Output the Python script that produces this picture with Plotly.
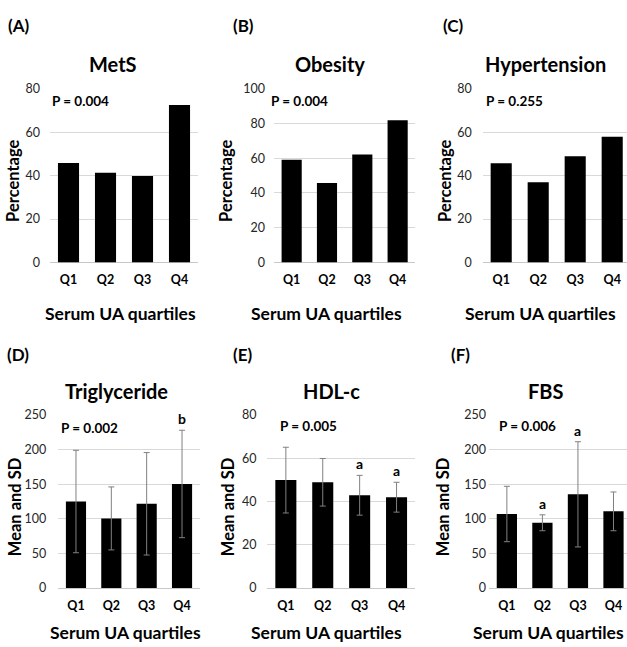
import plotly.graph_objects as go

W, H = 627, 647

categories = ["Q1", "Q2", "Q3", "Q4"]

# Panel data
mets = [45.8, 41.3, 39.8, 72.6]
obesity = [59.2, 45.8, 62.2, 81.9]
hypertension = [45.7, 37.0, 49.0, 57.9]
tg_mean = [125.0, 100.6, 121.7, 150.4]
tg_sd = [74.0, 45.5, 74.0, 77.6]
hdl_mean = [49.9, 48.9, 42.9, 42.0]
hdl_sd = [15.2, 11.0, 9.2, 6.9]
fbs_mean = [107.0, 94.3, 135.4, 110.8]
fbs_sd = [40.0, 11.5, 76.0, 28.0]

titles = ["MetS", "Obesity", "Hypertension", "Triglyceride", "HDL-c", "FBS"]
panel_labels = ["(A)", "(B)", "(C)", "(D)", "(E)", "(F)"]
p_values = ["P = 0.004", "P = 0.004", "P = 0.255", "P = 0.002", "P = 0.005", "P = 0.006"]
y_titles = ["Percentage", "Percentage", "Percentage", "Mean and SD", "Mean and SD", "Mean and SD"]
y_max = [80, 100, 80, 250, 80, 250]
y_dtick = [20, 20, 20, 50, 20, 50]

# significance letters: (panel index, category, letter)
sig_panel = [3, 4, 4, 5, 5]
sig_cat = ["Q4", "Q3", "Q4", "Q2", "Q3"]
sig_letter = ["b", "a", "a", "a", "a"]

values = [mets, obesity, hypertension, tg_mean, hdl_mean, fbs_mean]
errors = [None, None, None, tg_sd, hdl_sd, fbs_sd]

# layout geometry (pixels)
x_dom_px = [(50, 198), (274, 415.3), (482.7, 627), (58.3, 199.7), (267.4, 415), (489.1, 627)]
x_range = [(-0.5, 3.5), (-0.5, 3.5), (-0.5, 3.4), (-0.5, 3.5), (-0.5, 3.5), (-0.5, 3.38)]
top_dom = (0.5975, 0.872)
bot_dom = (0.0822, 0.356)
y_standoff = [9, 8, 10, 11, 10, 2]
title_pos = [(113, 57), (330, 57), (545, 57), (116, 392), (331, 392), (545, 392)]
label_pos = [(18, 18), (243, 18), (453, 18), (18, 355), (242, 355), (460, 355)]
p_pos = [(50, 95), (269, 95), (484, 95), (59, 430), (278, 428), (497, 428)]
ytitle_pos = [(13, 177), (226, 177), (445, 177), (15, 511), (228, 511), (443, 511)]
xtitle_pos = [(120, 313), (326, 313), (540, 313), (125, 639), (326, 639), (548, 639)]

FONT = "Lato"
fig = go.Figure()
annotations = []

def px2x(v):
    return v / W

def px2y(v):
    return 1 - v / H

for i in range(6):
    ax = "" if i == 0 else str(i + 1)
    err = None
    if errors[i] is not None:
        err = dict(type="data", array=errors[i], visible=True,
                   color="#808080", thickness=1, width=3)
    fig.add_trace(go.Bar(
        x=categories, y=values[i], error_y=err,
        marker=dict(color="black", line=dict(width=0)),
        xaxis="x" + ax, yaxis="y" + ax, showlegend=False,
    ))
    ydom = top_dom if i < 3 else bot_dom
    fig.update_layout(**{
        "xaxis" + ax: dict(
            domain=[px2x(x_dom_px[i][0]), px2x(x_dom_px[i][1])],
            anchor="y" + ax, type="category", range=list(x_range[i]),
            showgrid=False, showline=False, ticks="",
            tickfont=dict(family=FONT, size=12.5, color="black", weight="bold"),
            ticklabelstandoff=8, fixedrange=True,
        ),
        "yaxis" + ax: dict(
            domain=list(ydom), anchor="x" + ax, range=[0, y_max[i]],
            dtick=y_dtick[i], showgrid=True, gridcolor="#d9d9d9", gridwidth=1,
            zeroline=True, zerolinecolor="#c8c8c8", zerolinewidth=1,
            showline=False, ticks="",
            tickfont=dict(family=FONT, size=12.5, color="#262626"),
            ticklabelstandoff=y_standoff[i], fixedrange=True,
        ),
    })
    annotations.append(dict(text=titles[i], x=px2x(title_pos[i][0]), y=px2y(title_pos[i][1]),
                            xref="paper", yref="paper", showarrow=False,
                            xanchor="center", yanchor="middle",
                            font=dict(family=FONT, size=20, color="black", weight="bold")))
    annotations.append(dict(text=panel_labels[i], x=px2x(label_pos[i][0]), y=px2y(label_pos[i][1]),
                            xref="paper", yref="paper", showarrow=False,
                            xanchor="center", yanchor="middle",
                            font=dict(family=FONT, size=17, color="black", weight="bold")))
    annotations.append(dict(text=p_values[i], x=px2x(p_pos[i][0]), y=px2y(p_pos[i][1]),
                            xref="paper", yref="paper", showarrow=False,
                            xanchor="left", yanchor="middle",
                            font=dict(family=FONT, size=13.5, color="black", weight="bold")))
    annotations.append(dict(text=y_titles[i], x=px2x(ytitle_pos[i][0]), y=px2y(ytitle_pos[i][1]),
                            xref="paper", yref="paper", showarrow=False, textangle=-90,
                            xanchor="center", yanchor="middle",
                            font=dict(family=FONT, size=16.5, color="black", weight="bold")))
    annotations.append(dict(text="Serum UA quartiles", x=px2x(xtitle_pos[i][0]), y=px2y(xtitle_pos[i][1]),
                            xref="paper", yref="paper", showarrow=False,
                            xanchor="center", yanchor="middle",
                            font=dict(family=FONT, size=17.5, color="black", weight="bold")))

for p, c, letter in zip(sig_panel, sig_cat, sig_letter):
    ax = "" if p == 0 else str(p + 1)
    k = categories.index(c)
    top = values[p][k] + errors[p][k]
    annotations.append(dict(text=letter, x=c, y=top, xref="x" + ax, yref="y" + ax,
                            showarrow=False, xanchor="center", yanchor="bottom", yshift=1,
                            font=dict(family=FONT, size=14, color="black", weight="bold")))

fig.update_layout(
    width=W, height=H, autosize=False,
    margin=dict(l=0, r=0, t=0, b=0),
    paper_bgcolor="white", plot_bgcolor="white",
    bargap=0.43, annotations=annotations,
)

fig.write_html(
    "out.html",
    config={"displayModeBar": False},
    post_script="document.body.style.margin='0';document.body.style.padding='0';"
                "document.body.style.overflow='hidden';"
                "document.documentElement.style.overflow='hidden';",
)
